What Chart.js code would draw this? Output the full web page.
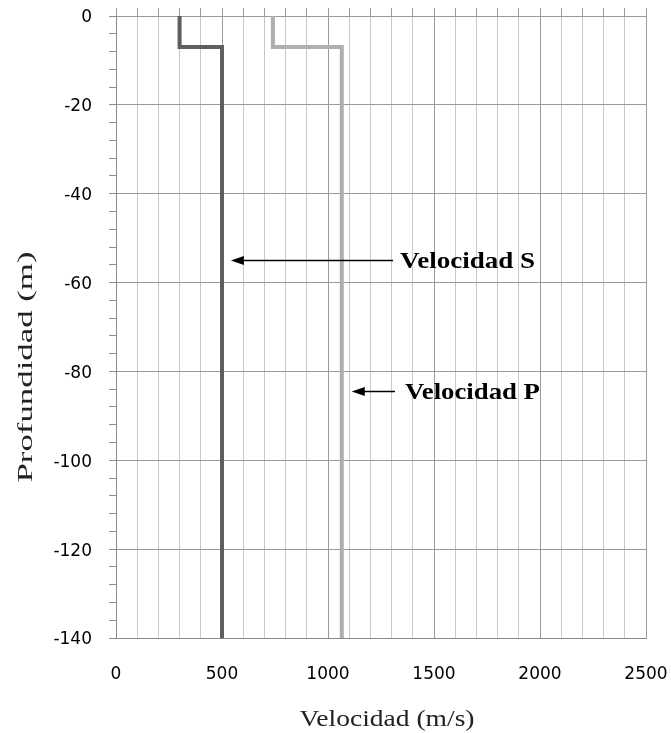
<!DOCTYPE html>
<html>
<head>
<meta charset="utf-8">
<script src="https://cdn.jsdelivr.net/npm/chart.js@4.4.1/dist/chart.umd.min.js"></script>
<style>
  html, body { margin: 0; padding: 0; background: #fff; }
  #wrap { width: 671px; height: 733px; position: relative; }
</style>
</head>
<body>
<div id="wrap"><canvas id="c" width="671" height="733"></canvas></div>
<script>
// ---- data ----
const velS = [300, 300, 500, 500];
const depthS = [0, -7, -7, -140];
const velP = [740, 740, 1065, 1065];
const depthP = [0, -7, -7, -140];
const xTickLabels = [0, 500, 1000, 1500, 2000, 2500];
const yTickLabels = [0, -20, -40, -60, -80, -100, -120, -140];
const annotLabels = ['Velocidad S', 'Velocidad P'];
const annotTipX = [542, 1112];
const annotTailX = [1307, 1316];
const annotTextX = [1340, 1363];
const annotY = [-55, -84.5];
const xTitle = 'Velocidad (m/s)';
const yTitle = 'Profundidad (m)';

const toPts = (xs, ys) => xs.map((v, i) => ({ x: v, y: ys[i] }));

function drawStretched(ctx, text, x, y, font, targetW, align, rot, color) {
  ctx.save();
  ctx.font = font;
  const w = ctx.measureText(text).width;
  const s = targetW / w;
  ctx.translate(x, y);
  if (rot) ctx.rotate(rot);
  ctx.scale(s, 1);
  ctx.textAlign = align;
  ctx.textBaseline = 'alphabetic';
  ctx.fillStyle = color || '#000';
  ctx.fillText(text, 0, 0);
  ctx.restore();
}

const annotPlugin = {
  id: 'annot',
  afterDatasetsDraw(chart) {
    const { ctx, scales: { x, y } } = chart;
    ctx.save();
    annotLabels.forEach((lab, i) => {
      const yy = Math.round(y.getPixelForValue(annotY[i])) + 0.5;
      const tip = x.getPixelForValue(annotTipX[i]);
      const tail = x.getPixelForValue(annotTailX[i]);
      const head = 13;
      ctx.strokeStyle = '#000';
      ctx.lineWidth = 1.5;
      ctx.beginPath();
      ctx.moveTo(tail, yy);
      ctx.lineTo(tip + head - 1, yy);
      ctx.stroke();
      ctx.fillStyle = '#000';
      ctx.beginPath();
      ctx.moveTo(tip, yy);
      ctx.lineTo(tip + head, yy - 4.5);
      ctx.lineTo(tip + head, yy + 4.5);
      ctx.closePath();
      ctx.fill();
      const tx = x.getPixelForValue(annotTextX[i]);
      drawStretched(ctx, lab, tx, yy + 7.5, 'bold 24px "Liberation Serif"', 135, 'left', 0, '#000');
    });
    ctx.restore();
  },
  afterDraw(chart) {
    const { ctx, chartArea } = chart;
    drawStretched(ctx, xTitle, (chartArea.left + chartArea.right) / 2 + 6, 726, '23px "Liberation Serif"', 175, 'center', 0, '#222');
    drawStretched(ctx, yTitle, 32, 367, '21px "Liberation Serif"', 231, 'center', -Math.PI / 2, '#222');
  }
};

const zeroPad = s => { s.paddingLeft = 0; s.paddingRight = 0; s.paddingTop = 0; s.paddingBottom = 0; };

const ctx = document.getElementById('c').getContext('2d');
new Chart(ctx, {
  type: 'scatter',
  data: {
    datasets: [
      { label: 'Velocidad S', data: toPts(velS, depthS), showLine: true, borderColor: '#5f5f5f', borderWidth: 4, pointRadius: 0, borderJoinStyle: 'miter', tension: 0 },
      { label: 'Velocidad P', data: toPts(velP, depthP), showLine: true, borderColor: '#afafaf', borderWidth: 4, pointRadius: 0, borderJoinStyle: 'miter', tension: 0 }
    ]
  },
  options: {
    responsive: false,
    animation: false,
    layout: { padding: { left: 0, right: 25, top: 0, bottom: 0 } },
    plugins: { legend: { display: false }, tooltip: { enabled: false } },
    scales: {
      x: {
        type: 'linear', position: 'bottom', min: 0, max: 2500,
        afterFit: s => { s.height = 95; zeroPad(s); },
        ticks: {
          stepSize: 100, autoSkip: false, maxRotation: 0, padding: 26,
          color: '#000', font: { family: '"DejaVu Sans"', size: 17 },
          callback: v => xTickLabels.includes(v) ? String(v) : ''
        },
        grid: {
          drawTicks: false,
          color: c => (c.tick && c.tick.value % 500 === 0) ? '#9a9a9a' : '#c8c8c8',
          lineWidth: 1
        },
        border: { color: '#8a8a8a' }
      },
      x2: {
        type: 'linear', position: 'top', min: 0, max: 2500,
        afterFit: s => { s.height = 16; zeroPad(s); },
        ticks: { stepSize: 100, autoSkip: false, display: false },
        grid: { drawOnChartArea: false, drawTicks: true, tickLength: 8, tickColor: '#9a9a9a', color: '#9a9a9a' },
        border: { color: '#9a9a9a' }
      },
      y: {
        type: 'linear', min: -140, max: 0,
        afterFit: s => { s.width = 116; zeroPad(s); },
        ticks: {
          stepSize: 4, autoSkip: false, padding: 17, labelOffset: 2,
          color: '#000', font: { family: '"DejaVu Sans"', size: 17 },
          callback: v => yTickLabels.includes(v) ? String(v) : ''
        },
        grid: {
          drawTicks: true, tickLength: 7,
          color: c => (c.tick && c.tick.value % 20 === 0) ? '#9a9a9a' : 'rgba(0,0,0,0)',
          tickColor: '#8a8a8a'
        },
        border: { color: '#8a8a8a' }
      }
    }
  },
  plugins: [annotPlugin]
});
</script>
</body>
</html>
